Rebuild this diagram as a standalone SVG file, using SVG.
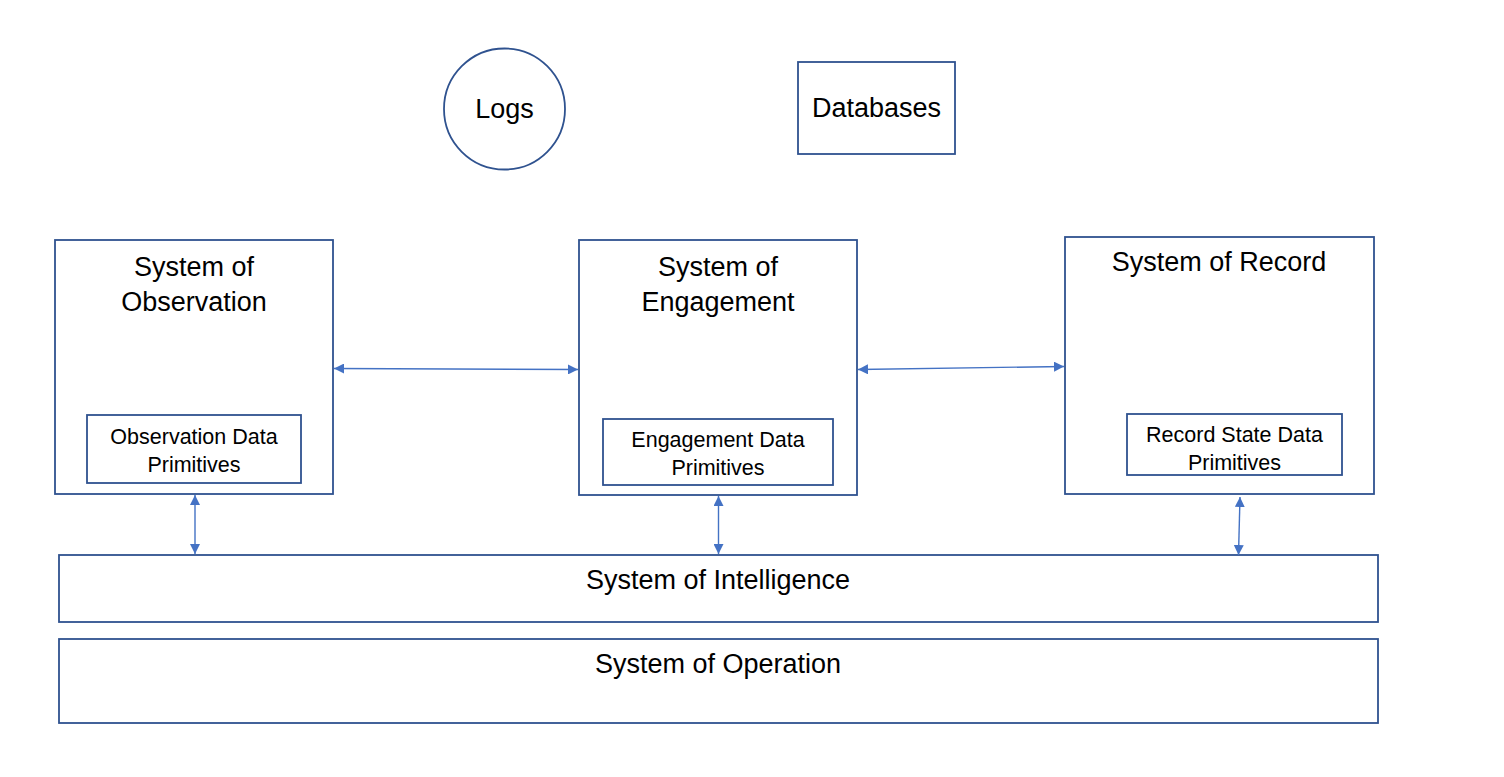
<svg xmlns="http://www.w3.org/2000/svg" width="1504" height="777" viewBox="0 0 1504 777">
<defs>
<style>
.box{fill:#fff;stroke:#2F528F;stroke-width:1.8}
.t{font-family:"Liberation Sans",Arial,sans-serif;fill:#000;text-anchor:middle;dominant-baseline:central}
.big{font-size:27px}
.small{font-size:21.5px}
.conn{stroke:#4472C4;stroke-width:1.4;fill:none;marker-start:url(#ah);marker-end:url(#ah)}
</style>
<marker id="ah" viewBox="0 0 10 10" refX="10" refY="5" markerWidth="10" markerHeight="10" markerUnits="userSpaceOnUse" orient="auto-start-reverse">
<path d="M0,0 L10,5 L0,10 z" fill="#4472C4"/>
</marker>
</defs>
<rect width="1504" height="777" fill="#fff"/>
<g id="logs"><circle class="box" cx="504.5" cy="109" r="60.5"/><text class="t big" x="504.5" y="109">Logs</text></g>
<g id="databases"><rect class="box" x="798" y="62" width="157" height="92"/><text class="t big" x="876.5" y="108">Databases</text></g>
<g id="soo"><rect class="box" x="55" y="240" width="278" height="254"/><text class="t big" x="194" y="267">System of</text><text class="t big" x="194" y="302">Observation</text></g>
<g id="odp"><rect class="box" x="87" y="415" width="214" height="68"/><text class="t small" x="194" y="437">Observation Data</text><text class="t small" x="194" y="465">Primitives</text></g>
<g id="soe"><rect class="box" x="579" y="240" width="278" height="255"/><text class="t big" x="718" y="267">System of</text><text class="t big" x="718" y="302">Engagement</text></g>
<g id="edp"><rect class="box" x="603" y="419" width="230" height="66"/><text class="t small" x="718" y="440">Engagement Data</text><text class="t small" x="718" y="468">Primitives</text></g>
<g id="sor"><rect class="box" x="1065" y="237" width="309" height="257"/><text class="t big" x="1219" y="262">System of Record</text></g>
<g id="rdp"><rect class="box" x="1127" y="414" width="215" height="61"/><text class="t small" x="1234.5" y="435">Record State Data</text><text class="t small" x="1234.5" y="463">Primitives</text></g>
<g id="soi"><rect class="box" x="59" y="555" width="1319" height="67"/><text class="t big" x="718" y="580">System of Intelligence</text></g>
<g id="sop"><rect class="box" x="59" y="639" width="1319" height="84"/><text class="t big" x="718" y="664">System of Operation</text></g>
<g id="connectors">
<line class="conn" x1="334" y1="368.5" x2="578" y2="369.5"/>
<line class="conn" x1="858" y1="369.5" x2="1064" y2="366.5"/>
<line class="conn" x1="195" y1="495" x2="195" y2="554"/>
<line class="conn" x1="718.5" y1="496" x2="718.5" y2="554"/>
<line class="conn" x1="1240" y1="497" x2="1238.5" y2="555"/>
</g>
</svg>
